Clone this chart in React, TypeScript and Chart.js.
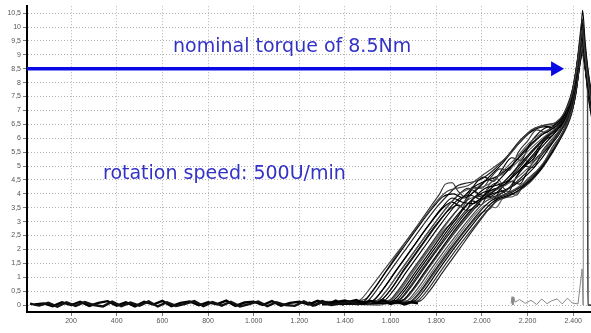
import { useEffect, useRef } from 'react';
import { Chart, registerables } from 'chart.js';

Chart.register(...registerables);

// ---- axes ----
const X_MIN = 7;
const X_MAX = 2478;
const Y_MIN = -0.25;
const Y_MAX = 10.75;
const xTickValues = [200, 400, 600, 800, 1000, 1200, 1400, 1600, 1800, 2000, 2200, 2400];
const yTickValues = [0, 0.5, 1, 1.5, 2, 2.5, 3, 3.5, 4, 4.5, 5, 5.5, 6, 6.5, 7, 7.5, 8, 8.5, 9, 9.5, 10, 10.5];

// ---- baseline noise (before the rise) ----
const baselineX = [40, 80, 120, 160, 200, 240, 280, 320, 360, 400, 440, 480, 520, 560, 600, 640, 680, 720, 760, 800, 840, 880, 920, 960, 1000, 1040, 1080, 1120, 1160, 1200, 1240, 1280, 1320, 1360, 1400, 1440, 1480];
const baselineA = [0.02, 0.06, -0.04, 0.1, 0.0, 0.12, -0.03, 0.08, 0.14, -0.02, 0.1, -0.05, 0.12, 0.02, 0.15, -0.04, 0.08, 0.13, -0.01, 0.1, 0.03, 0.16, -0.03, 0.09, 0.12, 0.0, 0.14, -0.02, 0.08, 0.12, 0.02, 0.15, 0.04, 0.1, 0.16, 0.06, 0.12];
const baselineX2 = [20, 60, 100, 140, 180, 220, 260, 300, 340, 380, 420, 460, 500, 540, 580, 620, 660, 700, 740, 780, 820, 860, 900, 940, 980, 1020, 1060, 1100, 1140, 1180, 1220, 1260, 1300, 1340, 1380, 1420, 1460];
const baselineB = [0.05, -0.02, 0.08, -0.06, 0.1, -0.03, 0.11, 0.0, -0.05, 0.12, -0.04, 0.09, -0.02, 0.13, -0.05, 0.1, -0.03, 0.04, 0.14, -0.04, 0.11, -0.02, 0.12, -0.05, 0.03, 0.13, -0.04, 0.1, 0.0, -0.03, 0.13, -0.02, 0.1, 0.0, 0.05, 0.12, 0.02];
const baselineX3 = [1240, 1270, 1300, 1330, 1360, 1390, 1420, 1450, 1480, 1510, 1540, 1570, 1600, 1630, 1660, 1690, 1720];
const baselineC = [0.1, 0.0, 0.14, 0.04, 0.16, 0.02, 0.12, 0.18, 0.05, 0.15, 0.08, 0.17, 0.04, 0.12, 0.02, 0.1, 0.06];

// ---- torque curves [speed, torque] ----
const curve01 = [[1300,0.06],[1420,0.1],[1466,0.18],[1510,0.6],[1570,1.25],[1640,2.0],[1710,2.75],[1770,3.4],[1817,3.87],[1850,4.1],[1890,4.2],[1940,4.3],[2000,4.65],[2060,5.0],[2120,5.4],[2170,5.9],[2216,6.3],[2270,6.45],[2320,6.55],[2360,6.9],[2392,7.5],[2416,8.5],[2430,9.4],[2439,9.9],[2450,9.1],[2464,8.1],[2485,7.0]];
const curve02 = [[1300,0.03],[1430,0.08],[1480,0.12],[1520,0.5],[1580,1.2],[1650,2.0],[1720,2.8],[1785,3.5],[1830,3.9],[1875,4.0],[1920,3.85],[1970,4.1],[2030,4.6],[2090,5.1],[2150,5.7],[2210,6.2],[2260,6.4],[2310,6.45],[2355,6.8],[2390,7.4],[2414,8.3],[2428,9.2],[2438,9.6],[2450,8.8],[2465,7.8],[2485,6.9]];
const curve03 = [[1300,0.08],[1450,0.05],[1500,0.15],[1540,0.55],[1600,1.25],[1670,2.05],[1740,2.85],[1805,3.55],[1850,3.95],[1895,4.3],[1940,4.4],[1990,4.5],[2050,4.85],[2110,5.35],[2170,5.95],[2230,6.35],[2290,6.5],[2335,6.6],[2370,7.1],[2398,7.8],[2418,8.8],[2430,9.7],[2440,10.3],[2451,9.3],[2466,8.3],[2485,7.3]];
const curve04 = [[1300,0.04],[1470,0.1],[1520,0.15],[1560,0.5],[1620,1.2],[1690,2.0],[1760,2.8],[1825,3.5],[1870,3.85],[1915,3.7],[1960,3.65],[2010,3.95],[2070,4.45],[2130,5.0],[2190,5.6],[2250,6.05],[2300,6.3],[2345,6.6],[2380,7.2],[2405,8.0],[2422,9.0],[2434,9.8],[2441,10.6],[2452,9.5],[2466,8.4],[2485,7.4]];
const curve05 = [[1300,0.05],[1490,0.08],[1540,0.15],[1580,0.5],[1640,1.2],[1710,2.0],[1780,2.8],[1845,3.5],[1890,3.9],[1935,4.15],[1980,4.2],[2030,4.35],[2090,4.8],[2150,5.3],[2210,5.85],[2265,6.2],[2315,6.4],[2355,6.75],[2388,7.4],[2410,8.2],[2425,9.1],[2437,9.5],[2449,8.9],[2464,7.9],[2485,6.8]];
const curve06 = [[1300,0.1],[1500,0.07],[1555,0.15],[1595,0.5],[1655,1.2],[1725,2.0],[1795,2.8],[1860,3.5],[1905,3.85],[1950,3.95],[1995,3.8],[2045,4.05],[2105,4.5],[2165,5.05],[2225,5.6],[2280,6.05],[2325,6.3],[2362,6.75],[2392,7.45],[2413,8.3],[2427,9.2],[2438,9.8],[2450,9.0],[2465,8.0],[2485,7.0]];
const curve07 = [[1300,0.02],[1520,0.1],[1570,0.15],[1610,0.5],[1670,1.2],[1740,2.0],[1810,2.8],[1875,3.5],[1920,3.9],[1965,4.25],[2010,4.45],[2060,4.6],[2120,4.95],[2180,5.45],[2240,5.95],[2290,6.3],[2335,6.55],[2370,7.0],[2397,7.6],[2416,8.5],[2429,9.4],[2439,10.1],[2451,9.2],[2466,8.2],[2485,7.2]];
const curve08 = [[1300,0.06],[1540,0.12],[1590,0.15],[1630,0.5],[1690,1.2],[1760,2.0],[1830,2.8],[1895,3.45],[1940,3.8],[1985,3.9],[2030,4.0],[2080,4.3],[2140,4.8],[2200,5.35],[2255,5.85],[2305,6.2],[2345,6.55],[2378,7.1],[2402,7.8],[2419,8.7],[2431,9.4],[2440,9.7],[2452,8.9],[2466,7.9],[2485,6.9]];
const curve09 = [[1300,0.04],[1560,0.06],[1610,0.15],[1650,0.5],[1710,1.2],[1780,2.0],[1850,2.8],[1915,3.45],[1960,3.8],[2005,4.05],[2050,4.15],[2100,4.35],[2160,4.8],[2220,5.3],[2275,5.8],[2320,6.2],[2358,6.6],[2386,7.2],[2407,8.0],[2422,8.9],[2434,9.5],[2442,9.9],[2453,9.0],[2467,8.0],[2485,7.1]];
const curve10 = [[1300,0.07],[1580,0.1],[1630,0.15],[1670,0.5],[1730,1.2],[1800,2.0],[1870,2.8],[1935,3.45],[1980,3.75],[2025,3.85],[2070,3.95],[2120,4.2],[2180,4.65],[2240,5.15],[2290,5.7],[2333,6.15],[2368,6.6],[2392,7.2],[2411,8.0],[2425,8.8],[2436,9.4],[2449,8.8],[2464,7.8],[2485,6.8]];
const curve11 = [[1300,0.03],[1600,0.08],[1650,0.15],[1690,0.5],[1750,1.2],[1820,2.0],[1890,2.8],[1955,3.45],[2000,3.8],[2045,4.0],[2090,4.1],[2140,4.3],[2200,4.7],[2255,5.2],[2303,5.75],[2343,6.2],[2375,6.7],[2398,7.3],[2415,8.1],[2428,9.0],[2438,9.6],[2450,8.9],[2465,7.9],[2485,6.9]];
const curve12 = [[1300,0.09],[1620,0.1],[1670,0.15],[1710,0.5],[1770,1.2],[1840,2.0],[1910,2.75],[1975,3.4],[2020,3.75],[2065,3.9],[2110,4.0],[2160,4.25],[2215,4.6],[2268,5.1],[2313,5.65],[2350,6.15],[2380,6.65],[2402,7.3],[2418,8.1],[2430,8.9],[2440,9.3],[2452,8.6],[2462,7.9],[2464,0.0],[2490,0.0]];
const curve13 = [[1300,0.05],[1640,0.07],[1690,0.15],[1730,0.5],[1790,1.2],[1860,2.0],[1930,2.75],[1995,3.4],[2040,3.75],[2085,3.9],[2130,4.05],[2180,4.3],[2232,4.7],[2282,5.2],[2325,5.75],[2360,6.25],[2386,6.75],[2406,7.4],[2421,8.2],[2432,9.0],[2441,9.4],[2452,8.7],[2466,7.7],[2485,6.7]];
const curve14 = [[1300,0.02],[1655,0.1],[1705,0.15],[1745,0.5],[1805,1.2],[1875,2.0],[1945,2.75],[2010,3.4],[2055,3.75],[2100,3.9],[2145,4.05],[2195,4.35],[2245,4.75],[2293,5.3],[2334,5.85],[2366,6.35],[2390,6.85],[2409,7.5],[2423,8.3],[2434,8.9],[2442,9.2],[2453,8.5],[2467,7.5],[2485,6.6]];
const curve15 = [[1300,0.06],[1670,0.08],[1718,0.15],[1758,0.5],[1818,1.2],[1888,2.0],[1958,2.75],[2023,3.4],[2068,3.75],[2113,3.9],[2160,4.1],[2208,4.4],[2258,4.85],[2303,5.4],[2342,5.95],[2372,6.4],[2394,6.9],[2412,7.6],[2425,8.4],[2436,9.0],[2444,9.1],[2455,8.4],[2463,7.8],[2465,0.0],[2490,0.0]];
const curve16 = [[1300,0.04],[1680,0.1],[1730,0.15],[1770,0.5],[1830,1.2],[1900,2.0],[1970,2.8],[2040,3.55],[2080,3.9],[2130,4.1],[2180,4.3],[2220,4.55],[2265,5.0],[2316,5.65],[2352,6.2],[2380,6.7],[2398,7.1],[2415,7.8],[2428,8.6],[2440,9.0],[2452,8.5],[2466,7.5],[2490,6.3]];
const curve17 = [[1300,0.0],[1550,0.12],[1600,0.2],[1640,0.55],[1700,1.25],[1770,2.05],[1840,2.85],[1905,3.55],[1950,3.95],[1995,4.35],[2040,4.55],[2090,4.7],[2150,5.1],[2210,5.6],[2265,6.0],[2312,6.3],[2352,6.6],[2384,7.2],[2406,8.0],[2421,8.9],[2433,9.6],[2441,10.0],[2452,9.2],[2466,8.2],[2485,7.2]];
const curve18 = [[1300,0.08],[1610,0.05],[1660,0.18],[1700,0.55],[1760,1.25],[1830,2.05],[1900,2.85],[1965,3.5],[2010,3.85],[2055,4.1],[2100,4.3],[2150,4.55],[2205,4.95],[2260,5.45],[2308,5.95],[2346,6.35],[2377,6.8],[2400,7.4],[2417,8.2],[2430,9.0],[2440,9.5],[2451,8.8],[2465,7.8],[2485,6.8]];
const curve19 = [[1300,0.05],[1500,0.1],[1545,0.18],[1585,0.55],[1645,1.25],[1715,2.05],[1785,2.85],[1850,3.55],[1895,3.95],[1940,4.2],[1985,4.0],[2035,3.9],[2090,4.25],[2150,4.8],[2210,5.4],[2265,5.9],[2310,6.2],[2350,6.5],[2385,7.1],[2408,7.9],[2424,8.8],[2436,9.6],[2441,10.2],[2452,9.3],[2466,8.3],[2485,7.2]];
const curve20 = [[1300,0.03],[1570,0.1],[1620,0.15],[1660,0.5],[1720,1.2],[1790,2.0],[1860,2.8],[1925,3.5],[1970,3.9],[2015,4.2],[2060,4.3],[2110,4.45],[2170,4.9],[2228,5.45],[2280,5.95],[2325,6.35],[2362,6.7],[2390,7.3],[2409,8.0],[2424,8.9],[2435,9.4],[2447,8.9],[2463,7.9],[2485,6.9]];
const curve21 = [[1300,0.12],[1440,0.15],[1490,0.22],[1530,0.6],[1590,1.35],[1660,2.2],[1725,2.95],[1780,3.6],[1815,4.0],[1840,4.35],[1870,4.4],[1895,4.1],[1925,3.9],[1960,4.25],[2000,4.2],[2040,4.6],[2080,4.9],[2120,4.85],[2160,5.5],[2200,5.9],[2240,6.3],[2280,6.2],[2320,6.5],[2360,6.85],[2394,7.6],[2418,8.7],[2432,9.5],[2440,9.8],[2452,9.0],[2466,8.0],[2485,7.0]];
const curve22 = [[1300,0.0],[1510,0.14],[1560,0.2],[1600,0.55],[1660,1.3],[1730,2.1],[1800,2.9],[1860,3.45],[1900,3.6],[1930,3.4],[1960,3.75],[1995,3.6],[2030,4.05],[2070,4.2],[2110,4.0],[2150,4.6],[2190,5.0],[2230,5.3],[2270,5.9],[2310,6.1],[2350,6.6],[2384,7.3],[2408,8.1],[2424,9.0],[2437,9.7],[2449,9.0],[2464,8.0],[2485,7.0]];
const curve23 = [[1300,0.1],[1550,0.0],[1600,0.15],[1640,0.5],[1700,1.2],[1770,2.0],[1840,2.75],[1890,3.1],[1930,3.7],[1970,4.1],[2000,3.85],[2030,4.3],[2065,4.55],[2100,4.3],[2140,4.75],[2180,5.25],[2215,5.1],[2250,5.75],[2290,6.15],[2330,6.4],[2366,6.9],[2393,7.5],[2413,8.4],[2428,9.2],[2439,9.9],[2451,9.1],[2466,8.1],[2485,7.1]];
const curve24 = [[1300,0.05],[1590,0.14],[1640,0.2],[1680,0.55],[1740,1.25],[1810,2.05],[1880,2.8],[1940,3.4],[1980,3.55],[2015,4.0],[2050,3.8],[2085,4.2],[2125,4.45],[2165,4.35],[2205,4.9],[2245,5.35],[2285,5.6],[2320,6.0],[2355,6.5],[2385,7.0],[2406,7.8],[2422,8.7],[2435,9.3],[2447,8.9],[2463,7.9],[2485,6.9]];
const curve25 = [[1300,0.13],[1635,0.12],[1685,0.2],[1725,0.55],[1785,1.25],[1855,2.05],[1920,2.75],[1980,3.35],[2020,3.6],[2060,3.5],[2095,3.85],[2135,3.9],[2175,4.2],[2215,4.45],[2255,4.9],[2295,5.45],[2330,5.8],[2362,6.3],[2388,6.9],[2408,7.6],[2423,8.4],[2435,9.1],[2444,9.3],[2455,8.6],[2468,7.6],[2485,6.8]];
const curve26 = [[1300,0.09],[1480,0.03],[1530,0.2],[1570,0.6],[1630,1.3],[1700,2.1],[1770,2.9],[1830,3.5],[1870,3.7],[1905,3.55],[1940,3.95],[1975,4.4],[2010,4.6],[2050,4.45],[2090,4.9],[2130,5.3],[2170,5.2],[2210,5.8],[2250,6.2],[2290,6.4],[2330,6.35],[2365,6.9],[2393,7.6],[2415,8.6],[2430,9.5],[2440,10.0],[2451,9.2],[2466,8.2],[2485,7.2]];
const curve27 = [[1300,0.02],[1610,0.15],[1660,0.2],[1700,0.55],[1760,1.25],[1830,2.05],[1895,2.75],[1950,3.3],[1995,3.75],[2035,4.25],[2070,4.4],[2105,4.15],[2145,4.5],[2185,5.0],[2225,4.95],[2265,5.55],[2305,5.95],[2340,6.3],[2372,6.8],[2397,7.5],[2415,8.3],[2430,9.1],[2440,9.6],[2452,8.9],[2466,7.9],[2485,6.9]];
const curve28 = [[1300,0.07],[1650,0.05],[1700,0.18],[1740,0.55],[1800,1.25],[1870,2.05],[1935,2.75],[1995,3.3],[2040,3.5],[2075,3.95],[2110,4.1],[2150,3.95],[2190,4.45],[2230,4.75],[2270,5.1],[2310,5.7],[2345,6.1],[2375,6.55],[2398,7.2],[2415,8.0],[2429,8.8],[2440,9.3],[2452,8.6],[2466,7.6],[2485,6.7]];

const torqueCurves = [curve01, curve02, curve03, curve04, curve05, curve06, curve07, curve08, curve09, curve10, curve11, curve12, curve13, curve14, curve15, curve16, curve17, curve18, curve19, curve20, curve21, curve22, curve23, curve24, curve25, curve26, curve27, curve28];
const curveColors = ['#444', '#000', '#222', '#000', '#555', '#111', '#000', '#333', '#000', '#222', '#000', '#444', '#111', '#000', '#333', '#222', '#666', '#555', '#111', '#000', '#333', '#000', '#555', '#111', '#666', '#000', '#222', '#444'];

// ---- grey trace near the end ----
const greyX = [2128, 2132, 2136, 2140, 2145, 2165, 2190, 2215, 2240, 2262, 2285, 2305, 2330, 2352, 2375, 2395, 2421, 2439, 2443, 2444];
const greyY = [0.05, 0.3, 0.0, 0.28, 0.1, 0.2, 0.06, 0.17, 0.02, 0.22, 0.05, 0.15, 0.22, 0.04, 0.25, 0.08, 0.04, 1.3, 0.0, 10.0];

// ---- annotations ----
const nominalTorque = 8.5;
const arrowEndX = 2360;
const nominalLabel = 'nominal torque of 8.5Nm';
const nominalLabelPos = { x: 647, y: 9.11 };
const speedLabel = 'rotation speed: 500U/min';
const speedLabelPos = { x: 340, y: 4.55 };

const fmtX = (v: number) =>
  v >= 1000 ? `${Math.floor(v / 1000)}.${String(v % 1000).padStart(3, '0')}` : String(v);
const fmtY = (v: number) => String(v).replace('.', ',');

const annotationPlugin = {
  id: 'annot',
  afterDatasetsDraw(chart: any) {
    const { ctx, chartArea, scales } = chart;
    const xs = scales.x;
    const ys = scales.y;
    ctx.save();
    const yPx = ys.getPixelForValue(nominalTorque);
    const tip = xs.getPixelForValue(arrowEndX);
    const headLen = 13;
    const headHalf = 7.5;
    ctx.strokeStyle = '#0a0ae6';
    ctx.fillStyle = '#0a0ae6';
    ctx.lineWidth = 3.5;
    ctx.beginPath();
    ctx.moveTo(chartArea.left, yPx);
    ctx.lineTo(tip - headLen + 1, yPx);
    ctx.stroke();
    ctx.beginPath();
    ctx.moveTo(tip, yPx);
    ctx.lineTo(tip - headLen, yPx - headHalf);
    ctx.lineTo(tip - headLen, yPx + headHalf);
    ctx.closePath();
    ctx.fill();
    ctx.font = "19px 'DejaVu Sans', Verdana, sans-serif";
    ctx.fillStyle = '#3232c6';
    ctx.textBaseline = 'alphabetic';
    ctx.textAlign = 'left';
    ctx.fillText(nominalLabel, xs.getPixelForValue(nominalLabelPos.x), ys.getPixelForValue(nominalLabelPos.y));
    ctx.fillText(speedLabel, xs.getPixelForValue(speedLabelPos.x), ys.getPixelForValue(speedLabelPos.y));
    ctx.restore();
  },
};

export default function App() {
  const canvasRef = useRef<HTMLCanvasElement | null>(null);

  useEffect(() => {
    if (!canvasRef.current) return;
    Chart.defaults.font.family = "'Liberation Sans', Arial, sans-serif";

    const datasets: any[] = [];
    const baseline = (xs: number[], ys: number[], color: string, w: number) => ({
      data: xs.map((x, i) => ({ x, y: ys[i] })),
      borderColor: color,
      borderWidth: w,
      tension: 0,
      pointRadius: 0,
    });
    datasets.push(baseline(baselineX2, baselineB, '#111', 2.4));
    datasets.push(baseline(baselineX, baselineA, '#000', 2.4));
    datasets.push(baseline(baselineX3, baselineC, '#000', 2.4));
    torqueCurves.forEach((c, i) => {
      datasets.push({
        data: c.map(([x, y]) => ({ x, y })),
        borderColor: curveColors[i],
        borderWidth: 1.15,
        cubicInterpolationMode: 'monotone',
        pointRadius: 0,
      });
    });
    datasets.push(baseline(greyX, greyY, '#888', 1));

    const chart = new Chart(canvasRef.current, {
      type: 'line',
      data: { datasets },
      options: {
        animation: false,
        responsive: true,
        maintainAspectRatio: false,
        parsing: false as any,
        normalized: true,
        layout: { padding: { top: 5, left: 0, right: 0, bottom: 0 } },
        plugins: { legend: { display: false }, tooltip: { enabled: false } },
        events: [],
        scales: {
          x: {
            type: 'linear',
            min: X_MIN,
            max: X_MAX,
            afterBuildTicks: (axis: any) => {
              axis.ticks = xTickValues.map((v) => ({ value: v }));
            },
            afterFit: (axis: any) => {
              axis.height = 21;
            },
            ticks: {
              autoSkip: false,
              maxRotation: 0,
              padding: 1,
              color: '#555',
              font: { size: 7 },
              callback: (v: any) => fmtX(Number(v)),
            },
            grid: { color: '#b4b4b4', lineWidth: 1, tickLength: 4, tickColor: '#777', tickBorderDash: [] },
            border: { display: true, color: '#000', width: 2, dash: [1, 2] },
          },
          y: {
            type: 'linear',
            min: Y_MIN,
            max: Y_MAX,
            afterBuildTicks: (axis: any) => {
              axis.ticks = yTickValues.map((v) => ({ value: v }));
            },
            afterFit: (axis: any) => {
              axis.width = 27;
            },
            ticks: {
              autoSkip: false,
              padding: 2,
              color: '#555',
              font: { size: 7 },
              callback: (v: any) => fmtY(Number(v)),
            },
            grid: { color: '#b4b4b4', lineWidth: 1, tickLength: 4, tickColor: '#777', tickBorderDash: [] },
            border: { display: true, color: '#000', width: 2, dash: [1, 2] },
          },
        },
      },
      plugins: [annotationPlugin],
    });
    return () => chart.destroy();
  }, []);

  return (
    <div style={{ position: 'fixed', left: 0, top: 0, width: 591, height: 333, background: '#fff' }}>
      <canvas ref={canvasRef} />
    </div>
  );
}
